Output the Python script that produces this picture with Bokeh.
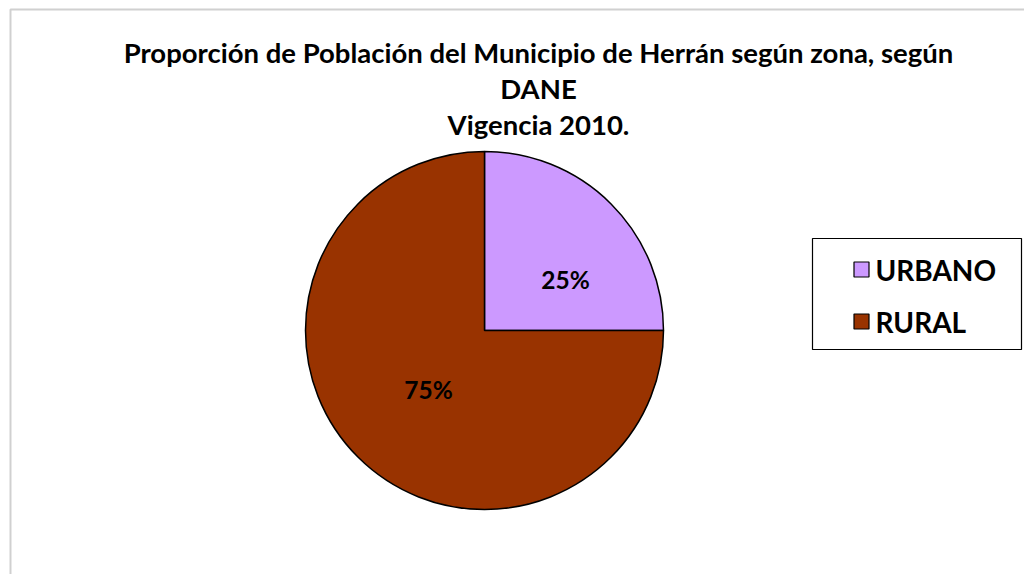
import math
from bokeh.plotting import figure
from bokeh.models import Range1d, ColumnDataSource
from bokeh.core.properties import value
from bokeh.embed import file_html
from bokeh.resources import INLINE

title_lines = ["Proporción de Población del Municipio de Herrán según zona, según", "DANE", "Vigencia 2010."]
categories = ["URBANO", "RURAL"]
values = [25, 75]
colors = ["#CC99FF", "#993300"]

W, H = 1024, 574
p = figure(width=W, height=H, output_backend="svg", toolbar_location=None,
           x_range=Range1d(0, W), y_range=Range1d(0, H), min_border=0)
p.axis.visible = False
p.grid.visible = False
p.outline_line_color = None
p.background_fill_color = "white"

# chart border
p.quad(left=[10], right=[1040], bottom=[-10], top=[H - 9], fill_color=None,
       line_color="#D0D0D0", line_width=2)

# title
font = value("Lato")
ty = [H - 52, H - 88, H - 124]
p.text(x=[538] * 3, y=ty, text=title_lines, text_font=font, text_font_style="bold",
       text_font_size="27.5px", text_align="center", text_baseline="middle", text_color="black")

# pie
cx, cy, r = 484, H - 330, 179
total = sum(values)
starts, ends = [], []
a = math.pi / 2
for v in values:
    starts.append(a)
    a = a - 2 * math.pi * v / total
    ends.append(a)
src = ColumnDataSource(dict(start=starts, end=ends, color=colors, cat=categories))
p.wedge(x=cx, y=cy, radius=r, start_angle="start", end_angle="end", direction="clock",
        fill_color="color", line_color="black", line_width=1.5, source=src)

# labels
label_pos = [(81, 51), (-56, -59)]
lx = [cx + dx for dx, dy in label_pos]
ly = [cy + dy for dx, dy in label_pos]
p.text(x=lx, y=ly, text=[f"{v}%" for v in values], text_font=font, text_font_style="bold",
       text_font_size="24.5px", text_align="center", text_baseline="middle", text_color="black")

# legend
p.quad(left=[812], right=[1021], bottom=[H - 349], top=[H - 238], fill_color="white",
       line_color="black", line_width=1.2)
leg_y = [H - 269, H - 321]
p.rect(x=[861] * 2, y=leg_y, width=15, height=15, fill_color=colors, line_color="black", line_width=1.2)
p.text(x=[875] * 2, y=leg_y, text=categories, text_font=font, text_font_style="bold",
       text_font_size="28px", text_align="left", text_baseline="middle", text_color="black")

open("out.html", "w").write(file_html(p, INLINE))
